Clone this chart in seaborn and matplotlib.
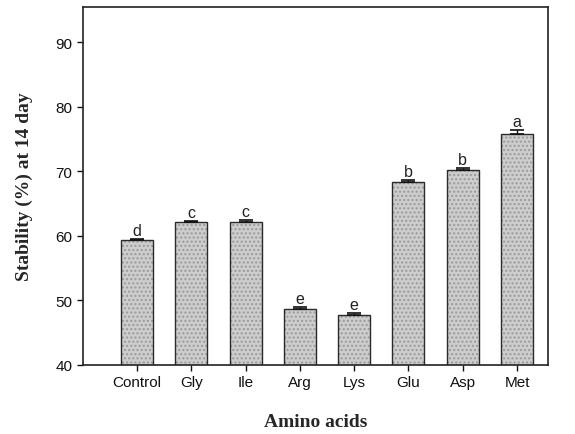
import matplotlib
matplotlib.use("Agg")
import matplotlib.pyplot as plt
import seaborn as sns
import pandas as pd
import numpy as np

categories = ["Control", "Gly", "Ile", "Arg", "Lys", "Glu", "Asp", "Met"]
values = [59.3, 62.1, 62.2, 48.6, 47.8, 68.3, 70.2, 75.8]
errors = [0.2, 0.2, 0.2, 0.3, 0.2, 0.3, 0.3, 0.6]
letters = ["d", "c", "c", "e", "e", "b", "b", "a"]

sns.set_theme(style="ticks")
plt.rcParams['font.family'] = ['Liberation Sans', 'DejaVu Sans']
plt.rcParams['hatch.color'] = '#9a9a9a'

df = pd.DataFrame({"aa": categories, "val": values})

fig = plt.figure(figsize=(5.75, 4.35), dpi=100)
ax = fig.add_axes([0.144, 0.159, 0.809, 0.823])
sns.barplot(data=df, x="aa", y="val", order=categories, color="#cdcdcd",
            edgecolor="#2a2a2a", linewidth=1.0, width=0.59, errorbar=None,
            saturation=1, ax=ax)
for p in ax.patches:
    p.set_hatch("....")
    p._hatch_color = matplotlib.colors.to_rgba('#9a9a9a')

xs = np.arange(len(categories))
ax.errorbar(xs, values, yerr=[np.zeros(len(errors)), errors], fmt="none",
            ecolor="#111111", elinewidth=1.0, capsize=5, capthick=1.2)
for x, v, e, l in zip(xs, values, errors, letters):
    ax.text(x, v + e + 0.15, l, ha="center", va="bottom", fontsize=11.5,
            color="#222222")

ax.set_ylim(40, 95.5)
ax.set_xlim(-1, 7.57)
ax.set_yticks([40, 50, 60, 70, 80, 90])
ax.tick_params(axis="both", labelsize=11, direction="out", length=4,
               width=1, colors="#111111")
for s in ax.spines.values():
    s.set_visible(True)
    s.set_linewidth(1.2)
    s.set_color("#222222")
ax.set_xlabel("Amino acids", family=["Liberation Serif"], fontweight="bold",
              fontsize=14, labelpad=17)
ax.set_ylabel("Stability (%) at 14 day", family=["Liberation Serif"],
              fontweight="bold", fontsize=14, labelpad=16)
fig.savefig("out.png", dpi=100)
